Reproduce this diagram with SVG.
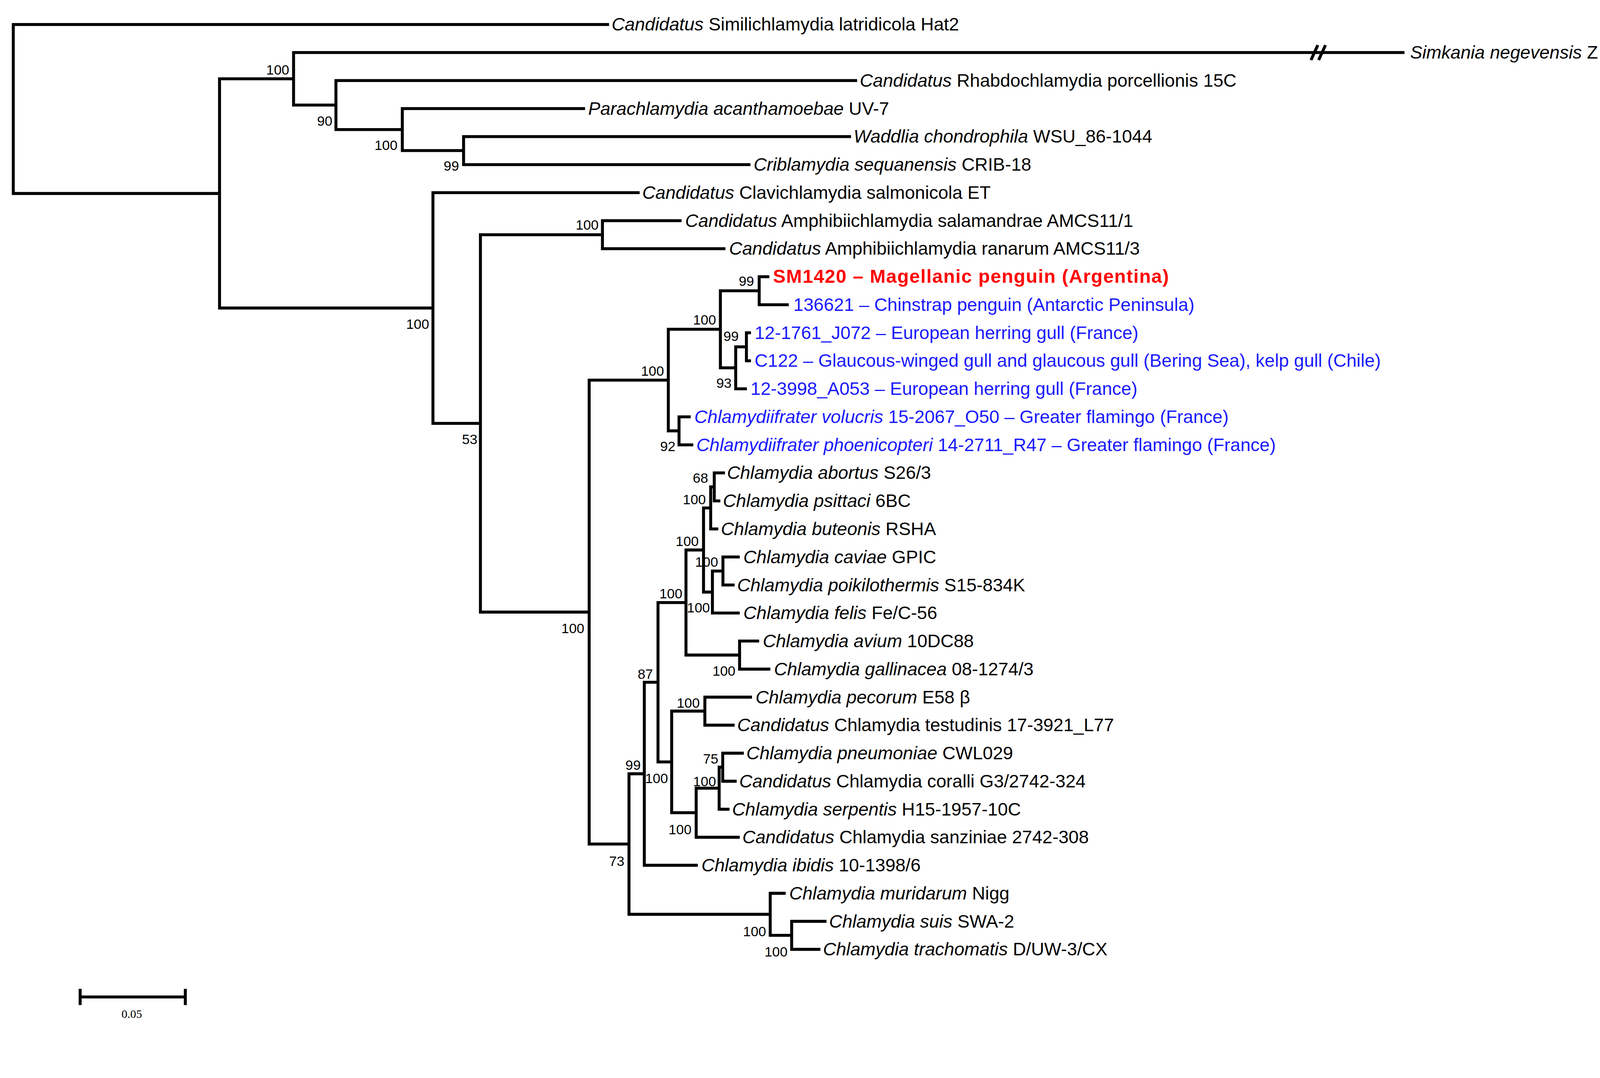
<svg xmlns="http://www.w3.org/2000/svg" width="4274" height="2760" viewBox="0 0 4274 2760">
<style>
.e{fill:none;stroke:#000;stroke-width:2.9;stroke-linecap:square}
.t{font-family:"Liberation Sans",Arial,sans-serif;font-size:17.8px;fill:#000}
.b{fill:#1a1aff}
.r{fill:#ff0000;font-weight:bold;font-size:18.5px;letter-spacing:0.6px}
.i{font-style:italic}
.s{font-family:"Liberation Sans",Arial,sans-serif;font-size:13.5px;fill:#000;text-anchor:middle}
</style>
<rect width="4274" height="2760" fill="#fff"/>
<g transform="scale(2.614)">
<g id="connectors">
<path class="e" d="M13 24V189.5M13 24H595M13 189.5H215
M215 77.2V301.7M215 77.2H287.5M215 301.7H424
M287.5 51.45V102.9M287.5 51.45H1374M287.5 102.9H329
M329 78.9V126.9M329 78.9H838M329 126.9H394
M394 106.35V147.5M394 106.35H571.5M394 147.5H454
M454 133.8V161.25M454 133.8H832M454 161.25H733.5
M424 188.7V414.7M424 188.7H625M424 414.7H470.5
M470.5 229.9V599.5M470.5 229.9H590M470.5 599.5H577
M590 216.15V243.6M590 216.15H666M590 243.6H709
M577 372.3V826.7M577 372.3H654.5M577 826.7H616
M654.5 322.5V422M654.5 322.5H705.5M654.5 422H665
M705.5 284.8V360.3M705.5 284.8H743.5M705.5 360.3H720.5
M743.5 271.05V298.5M743.5 271.05H752M743.5 298.5H771
M720.5 339.7V380.85M720.5 339.7H731M720.5 380.85H730
M731 325.95V353.4M731 325.95H734M731 353.4H734
M665 408.3V435.75M665 408.3H675M665 435.75H677.5
M616 757.9V895.5M616 757.9H631M616 895.5H754.3
M631 668.2V847.5M631 668.2H644.4M631 847.5H682
M644.4 590.2V746.3M644.4 590.2H671.8M644.4 746.3H657.8
M671.8 538.7V641.6M671.8 538.7H689M671.8 641.6H724.3
M689 497.5V579.9M689 497.5H696M689 579.9H697.7
M696 476.9V518.1M696 476.9H699.5M696 518.1H702
M699.5 463.2V490.65M699.5 463.2H708.5M699.5 490.65H704
M697.7 559.3V600.45M697.7 559.3H708M697.7 600.45H723
M708 545.55V573M708 545.55H723M708 573H718
M724.3 627.9V655.35M724.3 627.9H742M724.3 655.35H753
M657.8 696.5V796M657.8 696.5H690.3M657.8 796H681.8
M690.3 682.8V710.25M690.3 682.8H735M690.3 710.25H718
M681.8 772V820.05M681.8 772H704.3M681.8 820.05H723
M704.3 751.4V792.6M704.3 751.4H707.8M704.3 792.6H713
M707.8 737.7V765.15M707.8 737.7H727M707.8 765.15H720
M754.3 874.95V916.1M754.3 874.95H768M754.3 916.1H775.3
M775.3 902.4V929.85M775.3 902.4H808M775.3 929.85H802"/>
<path class="e" d="M1284.5 57.5L1290 45.5M1292 57.5L1297.5 45.5" stroke-width="3"/>
</g>
<g id="support">
<text class="s" x="272" y="73">100</text>
<text class="s" x="318" y="123">90</text>
<text class="s" x="378" y="147">100</text>
<text class="s" x="442" y="167">99</text>
<text class="s" x="575" y="225">100</text>
<text class="s" x="409" y="322">100</text>
<text class="s" x="460" y="435">53</text>
<text class="s" x="731" y="280">99</text>
<text class="s" x="690" y="318">100</text>
<text class="s" x="716" y="334">99</text>
<text class="s" x="639" y="368">100</text>
<text class="s" x="709" y="380">93</text>
<text class="s" x="654" y="442">92</text>
<text class="s" x="686" y="473">68</text>
<text class="s" x="680" y="494">100</text>
<text class="s" x="673" y="535">100</text>
<text class="s" x="692" y="555">100</text>
<text class="s" x="657" y="586">100</text>
<text class="s" x="684" y="600">100</text>
<text class="s" x="561" y="620">100</text>
<text class="s" x="709" y="662">100</text>
<text class="s" x="632" y="665">87</text>
<text class="s" x="674" y="693">100</text>
<text class="s" x="696" y="748">75</text>
<text class="s" x="620" y="754">99</text>
<text class="s" x="643" y="767">100</text>
<text class="s" x="690" y="770">100</text>
<text class="s" x="666" y="817">100</text>
<text class="s" x="604" y="848">73</text>
<text class="s" x="739" y="917">100</text>
<text class="s" x="760" y="937">100</text>
</g>
<g id="l0"><text class="t" x="599" y="30"><tspan class="i">Candidatus</tspan> Similichlamydia latridicola Hat2</text></g>
<g id="l1"><text class="t" x="1381" y="57.5"><tspan class="i">Simkania negevensis</tspan> Z</text></g>
<g id="l2"><text class="t" x="842" y="84.9"><tspan class="i">Candidatus</tspan> Rhabdochlamydia porcellionis 15C</text></g>
<g id="l3"><text class="t" x="576" y="112.4"><tspan class="i">Parachlamydia acanthamoebae</tspan> UV-7</text></g>
<g id="l4"><text class="t" x="836" y="139.8"><tspan class="i">Waddlia chondrophila</tspan> WSU_86-1044</text></g>
<g id="l5"><text class="t" x="738" y="167.3"><tspan class="i">Criblamydia sequanensis</tspan> CRIB-18</text></g>
<g id="l6"><text class="t" x="629" y="194.7"><tspan class="i">Candidatus</tspan> Clavichlamydia salmonicola ET</text></g>
<g id="l7"><text class="t" x="671" y="222.2"><tspan class="i">Candidatus</tspan> Amphibiichlamydia salamandrae AMCS11/1</text></g>
<g id="l8"><text class="t" x="714" y="249.6"><tspan class="i">Candidatus</tspan> Amphibiichlamydia ranarum AMCS11/3</text></g>
<g id="l9"><text class="t r" x="757" y="277.1">SM1420 – Magellanic penguin (Argentina)</text></g>
<g id="l10"><text class="t b" x="777" y="304.5">136621 – Chinstrap penguin (Antarctic Peninsula)</text></g>
<g id="l11"><text class="t b" x="739" y="332">12-1761_J072 – European herring gull (France)</text></g>
<g id="l12"><text class="t b" x="739" y="359.4">C122 – Glaucous-winged gull and glaucous gull (Bering Sea), kelp gull (Chile)</text></g>
<g id="l13"><text class="t b" x="735" y="386.9">12-3998_A053 – European herring gull (France)</text></g>
<g id="l14"><text class="t b" x="680" y="414.3"><tspan class="i">Chlamydiifrater volucris</tspan> 15-2067_O50 – Greater flamingo (France)</text></g>
<g id="l15"><text class="t b" x="682" y="441.8"><tspan class="i">Chlamydiifrater phoenicopteri</tspan> 14-2711_R47 – Greater flamingo (France)</text></g>
<g id="l16"><text class="t" x="712" y="469.2"><tspan class="i">Chlamydia abortus</tspan> S26/3</text></g>
<g id="l17"><text class="t" x="708" y="496.7"><tspan class="i">Chlamydia psittaci</tspan> 6BC</text></g>
<g id="l18"><text class="t" x="706" y="524.1"><tspan class="i">Chlamydia buteonis</tspan> RSHA</text></g>
<g id="l19"><text class="t" x="728" y="551.6"><tspan class="i">Chlamydia caviae</tspan> GPIC</text></g>
<g id="l20"><text class="t" x="722" y="579"><tspan class="i">Chlamydia poikilothermis</tspan> S15-834K</text></g>
<g id="l21"><text class="t" x="728" y="606.5"><tspan class="i">Chlamydia felis</tspan> Fe/C-56</text></g>
<g id="l22"><text class="t" x="747" y="633.9"><tspan class="i">Chlamydia avium</tspan> 10DC88</text></g>
<g id="l23"><text class="t" x="758" y="661.4"><tspan class="i">Chlamydia gallinacea</tspan> 08-1274/3</text></g>
<g id="l24"><text class="t" x="740" y="688.8"><tspan class="i">Chlamydia pecorum</tspan> E58 β</text></g>
<g id="l25"><text class="t" x="722" y="716.3"><tspan class="i">Candidatus</tspan> Chlamydia testudinis 17-3921_L77</text></g>
<g id="l26"><text class="t" x="731" y="743.7"><tspan class="i">Chlamydia pneumoniae</tspan> CWL029</text></g>
<g id="l27"><text class="t" x="724" y="771.2"><tspan class="i">Candidatus</tspan> Chlamydia coralli G3/2742-324</text></g>
<g id="l28"><text class="t" x="717" y="798.6"><tspan class="i">Chlamydia serpentis</tspan> H15-1957-10C</text></g>
<g id="l29"><text class="t" x="727" y="826.1"><tspan class="i">Candidatus</tspan> Chlamydia sanziniae 2742-308</text></g>
<g id="l30"><text class="t" x="687" y="853.5"><tspan class="i">Chlamydia ibidis</tspan> 10-1398/6</text></g>
<g id="l31"><text class="t" x="773" y="881"><tspan class="i">Chlamydia muridarum</tspan> Nigg</text></g>
<g id="l32"><text class="t" x="812" y="908.4"><tspan class="i">Chlamydia suis</tspan> SWA-2</text></g>
<g id="l33"><text class="t" x="806" y="935.9"><tspan class="i">Chlamydia trachomatis</tspan> D/UW-3/CX</text></g>
<g id="scale">
<path class="e" d="M78.5 976.5H181.5M78.5 970V983M181.5 970V983" stroke-linecap="butt"/>
<text x="129" y="997" font-family="Liberation Serif,serif" font-size="11.5" text-anchor="middle">0.05</text>
</g>
</g>
</svg>
